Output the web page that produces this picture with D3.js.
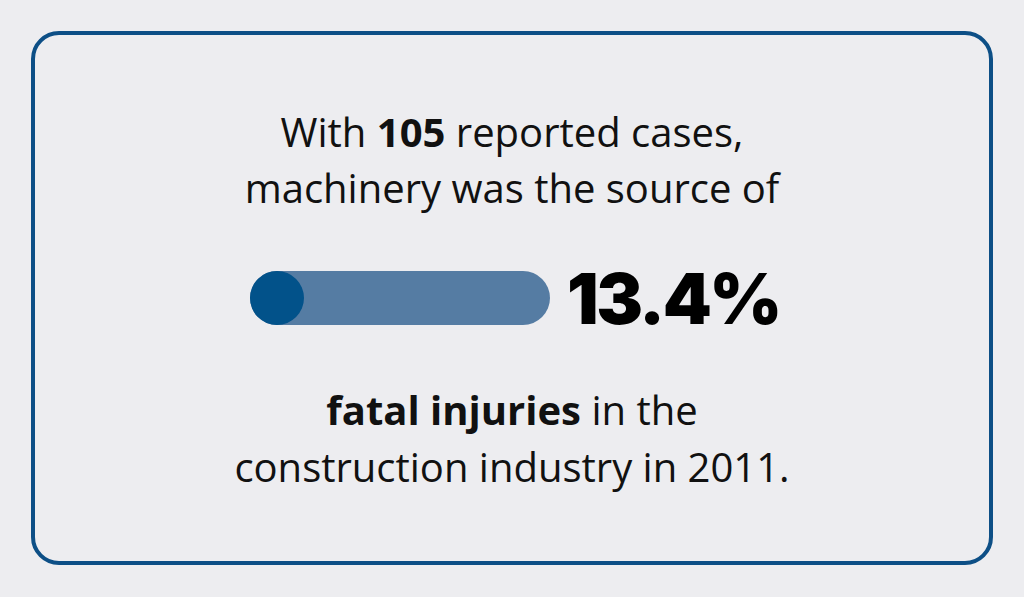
<!DOCTYPE html><html><head><meta charset="utf-8">
<script src="https://cdn.jsdelivr.net/npm/d3@7"></script>
<style>body{margin:0;background:#ededf0}</style></head><body>
<script>
const percentValue = [13.4];
const casesValue = [105];
const yearValue = [2011];
const W=1024,H=597;
const svg=d3.select("body").append("svg").attr("width",W).attr("height",H);
svg.append("rect").attr("width",W).attr("height",H).attr("fill","#ededf0");
svg.append("rect").attr("x",33).attr("y",33).attr("width",958).attr("height",530).attr("rx",26)
  .attr("fill","none").attr("stroke","#0d4f86").attr("stroke-width",4);
const x=d3.scaleLinear().domain([0,100]).range([250,550]);
const bh=54, by=271;
svg.append("rect").attr("x",x(0)).attr("y",by).attr("width",x(100)-x(0)).attr("height",bh).attr("rx",bh/2).attr("fill","#557ca3");
svg.selectAll("circle.k").data(percentValue).enter().append("circle")
  .attr("cx",x(0)+bh/2).attr("cy",by+bh/2).attr("r",bh/2).attr("fill","#02528a");
svg.selectAll("text.v").data(percentValue).enter().append("text")
  .attr("x",567).attr("y",324).attr("font-family","Inter").attr("font-weight",900)
  .attr("font-size",70).attr("letter-spacing",-2.5).attr("fill","#000").text(d=>d+"%");
const f="'Open Sans'";
function line(y,parts){
  const t=svg.append("text").attr("x",512).attr("y",y).attr("text-anchor","middle")
   .attr("font-family",f).attr("font-size",40).attr("fill","#111");
  parts.forEach(p=>t.append("tspan").attr("font-weight",p[1]?700:400).text(p[0]));
}
line(147,[["With "],[String(casesValue[0]),1],[" reported cases,"]]);
line(203,[["machinery was the source of"]]);
line(425,[["fatal injuries",1],[" in the"]]);
line(482,[["construction industry in "+yearValue[0]+"."]]);
</script></body></html>
